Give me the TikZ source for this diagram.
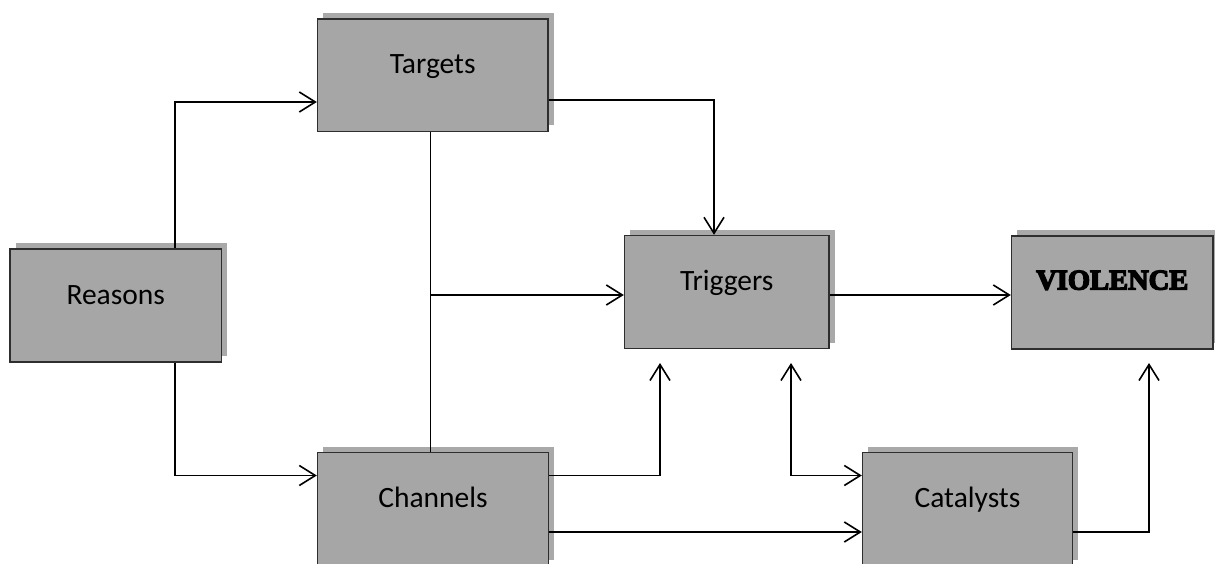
\documentclass[tikz,border=0pt]{standalone}
\usepackage{fontspec}
\setmainfont{Carlito}
\newfontfamily\heavyfont[UprightFont={* Bold}, FakeBold=5]{Liberation Serif}
\usetikzlibrary{arrows.meta,shadows}
\definecolor{boxfill}{HTML}{A6A6A6}
\definecolor{boxshadow}{HTML}{A9A9A9}
\definecolor{boxline}{HTML}{2E2E2E}
\tikzset{
  stagebox/.style={draw=boxline, line width=1.4pt, fill=boxfill, rectangle,
    inner sep=0pt, text height=0pt, text depth=3pt,
    font=\fontsize{29.5}{35}\selectfont,
    general shadow={shadow xshift=5.5pt, shadow yshift=6pt, fill=boxshadow}},
  link/.style={line width=1.6pt, black},
  arr/.style={link, -{Straight Barb[length=16pt, width=20pt, line width=1.6pt]}},
  biarr/.style={link, {Straight Barb[length=16pt, width=20pt, line width=1.6pt]}-{Straight Barb[length=16pt, width=20pt, line width=1.6pt]}}
}
\begin{document}
\begin{tikzpicture}[x=1pt, y=-1pt]
  \clip (0,0) rectangle (1215,564);
  \fill[white] (0,0) rectangle (1215,564);

  % stages
  \node[stagebox, minimum width=230.5pt, minimum height=112.5pt] (tg) at (432.75,75.25) {Targets};
  \node[stagebox, minimum width=211.5pt, minimum height=113pt] (rs) at (115.75,305.5) {Reasons};
  \node[stagebox, minimum width=204.5pt, minimum height=113pt] (tr) at (726.75,292) {Triggers};
  \node[stagebox, minimum width=201.5pt, minimum height=113pt, text depth=6pt,
        font=\heavyfont\fontsize{28.5}{34}\selectfont] (vi) at (1112.25,292.5) {VIOLENCE};
  \node[stagebox, minimum width=231pt, minimum height=113pt] (ch) at (433,509) {Channels};
  \node[stagebox, minimum width=210pt, minimum height=113pt] (ca) at (967.5,509) {Catalysts};

  % routing points
  \coordinate (j1) at (175,102);
  \coordinate (j2) at (175,475.5);
  \coordinate (j3) at (714,100);
  \coordinate (j4) at (430.5,0);
  \coordinate (j5) at (430.5,295);
  \coordinate (j7) at (0,475.5);
  \coordinate (j8) at (0,532);
  \coordinate (e1) at (660,363);
  \coordinate (e2) at (791,363);
  \coordinate (e3) at (1149,363);

  % connectors
  \draw[arr] (rs.north -| j1) |- (tg.west |- j1);
  \draw[arr] (rs.south -| j2) |- (ch.west |- j2);
  \draw[arr] (tg.east |- j3) -| (tr.north -| j3);
  \draw[link] (tg.south -| j4) -- (ch.north -| j4);
  \draw[arr] (j5) -- (tr.west |- j5);
  \draw[arr] (tr.east |- j5) -- (vi.west |- j5);
  \draw[arr] (ch.east |- j7) -| (e1);
  \draw[arr] (ch.east |- j8) -- (ca.west |- j8);
  \draw[biarr] (e2) |- (ca.west |- j7);
  \draw[arr] (ca.east |- j8) -| (e3);
\end{tikzpicture}
\end{document}
